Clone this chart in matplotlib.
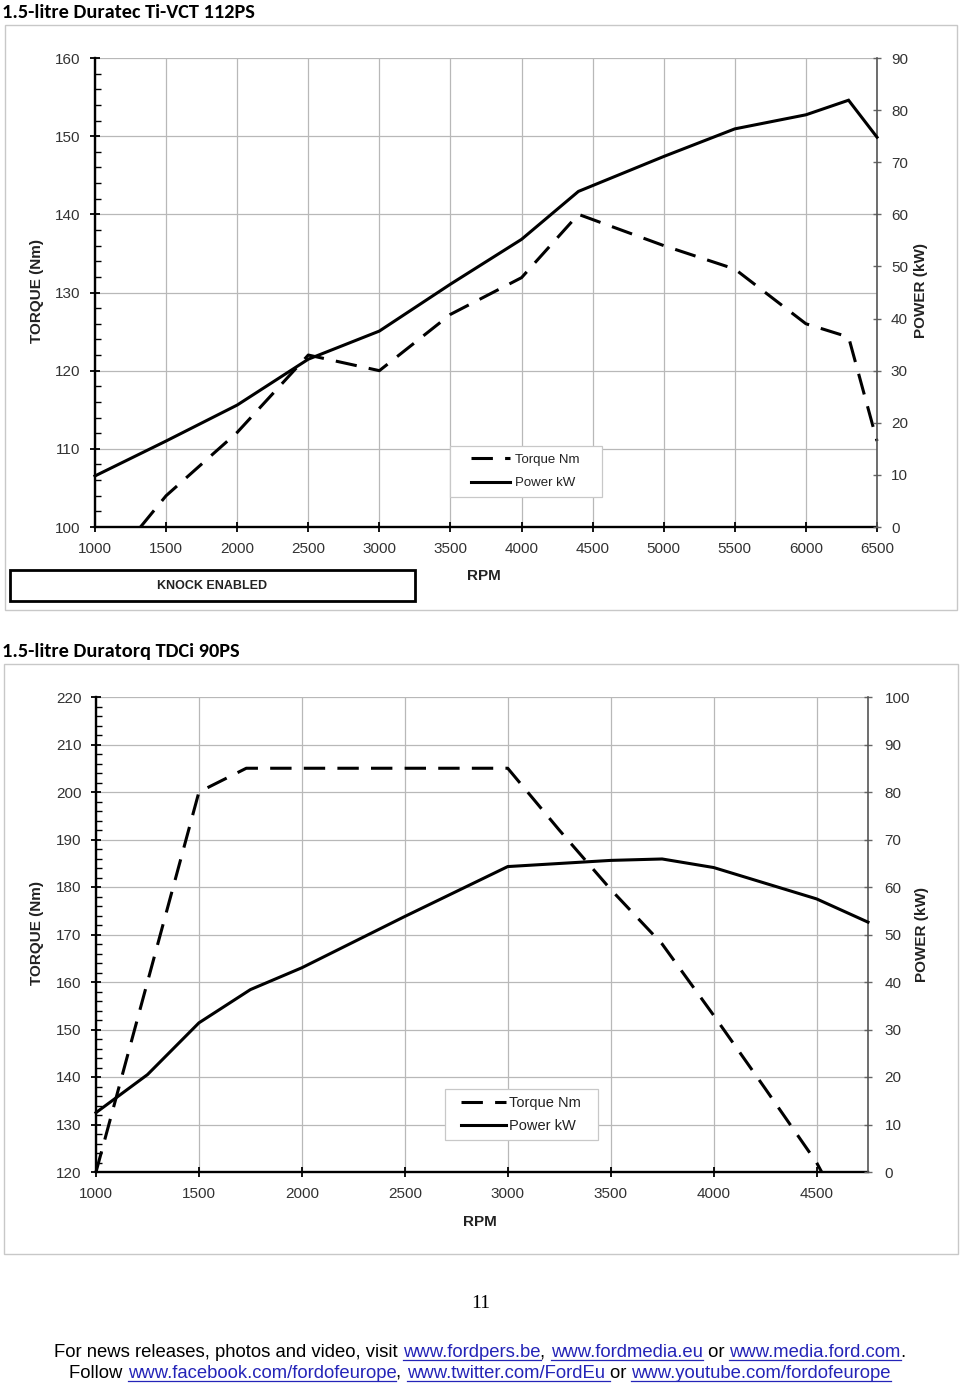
import matplotlib
matplotlib.use('Agg')
import matplotlib.pyplot as plt
from matplotlib.patches import Rectangle
from matplotlib.lines import Line2D
from matplotlib.ticker import MultipleLocator

# 1.5-litre Duratec Ti-VCT 112PS
petrol_torque_rpm = [1320, 1500, 2000, 2500, 3000, 3500, 4000, 4400, 5000, 5500, 6000, 6300, 6500]
petrol_torque_nm = [100, 104.0, 112.1, 122.0, 120.0, 127.2, 131.9, 140.0, 136.0, 133.0, 126.0, 124.3, 111.0]
petrol_power_rpm = [1000, 1500, 2000, 2500, 3000, 3500, 4000, 4400, 5000, 5500, 6000, 6300, 6500]
petrol_power_kw = [9.8, 16.5, 23.4, 32.2, 37.6, 46.6, 55.2, 64.4, 71.1, 76.4, 79.1, 81.9, 74.8]

# 1.5-litre Duratorq TDCi 90PS
diesel_torque_rpm = [1000, 1500, 1730, 3000, 3250, 3500, 3750, 4000, 4250, 4500, 4525]
diesel_torque_nm = [120, 200, 205, 205, 192.0, 179.5, 168.0, 153.0, 137.6, 122.0, 120]
diesel_power_rpm = [1000, 1250, 1500, 1750, 2000, 2500, 3000, 3500, 3750, 4000, 4500, 4750]
diesel_power_kw = [12.5, 20.5, 31.4, 38.4, 43.0, 53.8, 64.3, 65.6, 65.9, 64.1, 57.5, 52.6]

petrol_xticks = [1000, 1500, 2000, 2500, 3000, 3500, 4000, 4500, 5000, 5500, 6000, 6500]
diesel_xticks = [1000, 1500, 2000, 2500, 3000, 3500, 4000, 4500]

titles = ['1.5-litre Duratec Ti-VCT 112PS', '1.5-litre Duratorq TDCi 90PS']

W, H = 960, 1385
TICK_FONT = 'Liberation Sans'


def fx(px):
    return px / W


def fy(py):
    return 1 - py / H


def box(l, t, r, b):
    # rectangle in page pixels -> figure fraction
    return [fx(l), fy(b), (r - l) / W, (b - t) / H]


def frame(l, t, r, b, **kw):
    fig.add_artist(Rectangle((fx(l), fy(b)), (r - l) / W, (b - t) / H,
                             transform=fig.transFigure, fill=False, **kw))


fig = plt.figure(figsize=(W / 100, H / 100), dpi=100)
fig.patch.set_facecolor('white')


def make_chart(rect, xlim, ylim, plim, xticks, trpm, tnm, prpm, pkw,
               leg_box, leg_left, leg_size, leg_handle, leg_textpad, leg_spacing, plab_pad):
    ax = fig.add_axes(rect)
    ax2 = ax.twinx()

    lt, = ax.plot(trpm, tnm, color='black', lw=2.2, ls=(0, (7, 4)), clip_on=False, zorder=3)
    lp, = ax2.plot(prpm, pkw, color='black', lw=2.2, clip_on=False, zorder=3,
                   solid_joinstyle='miter')

    ax.set_xlim(*xlim)
    ax.set_ylim(*ylim)
    ax2.set_ylim(*plim)
    ax.set_xticks(xticks)
    ax.yaxis.set_major_locator(MultipleLocator(10))
    ax.yaxis.set_minor_locator(MultipleLocator(2))
    ax2.yaxis.set_major_locator(MultipleLocator(10))

    ax.grid(True, which='major', color='#b8b8b8', lw=0.9)
    ax.set_axisbelow(True)

    for s in ['top', 'right']:
        ax.spines[s].set_visible(False)
    for s in ['left', 'bottom']:
        ax.spines[s].set_linewidth(1.7)
        ax.spines[s].set_color('black')
    for s in ['left', 'bottom', 'top']:
        ax2.spines[s].set_visible(False)
    ax2.spines['right'].set_color('#555555')
    ax2.spines['right'].set_linewidth(1.2)

    ax.tick_params(which='major', direction='inout', length=7, width=1.3, color='black',
                   labelcolor='#333333', labelsize=11)
    ax.tick_params(axis='y', which='major', pad=7)
    ax.tick_params(axis='x', which='major', pad=7)
    ax.tick_params(which='minor', direction='in', length=4, width=1.0, color='black')
    ax2.tick_params(axis='y', direction='inout', length=6, width=1.0, color='#666666',
                    labelcolor='#333333', labelsize=11, pad=plab_pad)
    for lab in ax.get_xticklabels() + ax.get_yticklabels() + ax2.get_yticklabels():
        lab.set_family(TICK_FONT)

    # legend box drawn separately so the side padding matches the original
    l, t, r, b = leg_box
    fig.add_artist(Rectangle((fx(l), fy(b)), (r - l) / W, (b - t) / H, transform=fig.transFigure,
                             fc='white', ec='#c8c8c8', lw=0.9, zorder=4))
    leg = ax2.legend([lt, lp], ['Torque Nm', 'Power kW'], loc='center left',
                     bbox_to_anchor=(fx(leg_left), fy((t + b) / 2)), bbox_transform=fig.transFigure,
                     frameon=False, borderpad=0, borderaxespad=0, handlelength=leg_handle,
                     handletextpad=leg_textpad, labelspacing=leg_spacing,
                     prop={'family': TICK_FONT, 'size': leg_size})
    leg.set_zorder(5)
    leg.remove()
    fig.add_artist(leg)
    for txt in leg.get_texts():
        txt.set_color('#222222')
    return ax, ax2


# panel frames
frame(5, 25, 957, 610, ec='#c8c8c8', lw=1.0)
frame(4, 664, 958, 1254, ec='#c8c8c8', lw=1.0)

# section titles
title_font = ['Carlito', 'Lato', 'DejaVu Sans']
fig.text(fx(2), fy(12), titles[0], family=title_font, weight='bold', fontsize=14.7, va='center', ha='left')
fig.text(fx(2), fy(651), titles[1], family=title_font, weight='bold', fontsize=14.7, va='center', ha='left')

# top chart
make_chart(box(95, 58, 877, 527), (1000, 6500), (100, 160), (0, 90), petrol_xticks,
           petrol_torque_rpm, petrol_torque_nm, petrol_power_rpm, petrol_power_kw,
           (450, 446, 602, 497), 471, 9.5, 2.95, 0.35, 0.85, 7)

# bottom chart
make_chart(box(96, 697, 868, 1172), (1000, 4750), (120, 220), (0, 100), diesel_xticks,
           diesel_torque_rpm, diesel_torque_nm, diesel_power_rpm, diesel_power_kw,
           (445, 1089, 598, 1140), 461, 10.5, 3.1, 0.2, 0.65, 9)

# axis titles
lab = dict(family=TICK_FONT, weight='bold', fontsize=11, color='#222222', ha='center', va='center')
fig.text(fx(37), fy(291), 'TORQUE (Nm)', rotation=90, **lab)
fig.text(fx(921), fy(291), 'POWER (kW)', rotation=90, **lab)
fig.text(fx(484), fy(576), 'RPM', **lab)
fig.text(fx(37), fy(933), 'TORQUE (Nm)', rotation=90, **lab)
fig.text(fx(922), fy(934), 'POWER (kW)', rotation=90, **lab)
fig.text(fx(480), fy(1222), 'RPM', **lab)

# knock enabled box
frame(10, 570, 415, 601, ec='black', lw=2.0)
fig.text(fx(212), fy(586), 'KNOCK ENABLED', family=TICK_FONT, weight='bold', fontsize=9,
         color='#222222', ha='center', va='center')

# page number
fig.text(fx(481), fy(1303), '11', family=['Liberation Serif', 'DejaVu Serif'], fontsize=14,
         ha='center', va='center')

# footer with links
FOOT_FONT = 'Liberation Sans'
renderer = fig.canvas.get_renderer()


def text_width(s, size):
    t = fig.text(0, 0, '|' + s + '|', family=FOOT_FONT, fontsize=size)
    w = t.get_window_extent(renderer).width
    t.remove()
    return w


def link_line(y, parts, size):
    bar = text_width('', size)
    widths = [text_width(s, size) - bar for s, _ in parts]
    x = (W - sum(widths)) / 2
    for (s, link), w in zip(parts, widths):
        col = '#2424b8' if link else 'black'
        fig.text(fx(x), fy(y), s, family=FOOT_FONT, fontsize=size, color=col, va='baseline', ha='left')
        if link:
            fig.add_artist(Line2D([fx(x), fx(x + w)], [fy(y + 2.5), fy(y + 2.5)], color=col, lw=0.9,
                                  transform=fig.transFigure))
        x += w


link_line(1357, [('For news releases, photos and video, visit ', False), ('www.fordpers.be', True),
                 (', ', False), ('www.fordmedia.eu', True), (' or ', False),
                 ('www.media.ford.com', True), ('.', False)], 13.3)
link_line(1378, [('Follow ', False), ('www.facebook.com/fordofeurope', True), (', ', False),
                 ('www.twitter.com/FordEu ', True), ('or ', False),
                 ('www.youtube.com/fordofeurope', True)], 13.3)

plt.savefig('out.png', dpi=100)
